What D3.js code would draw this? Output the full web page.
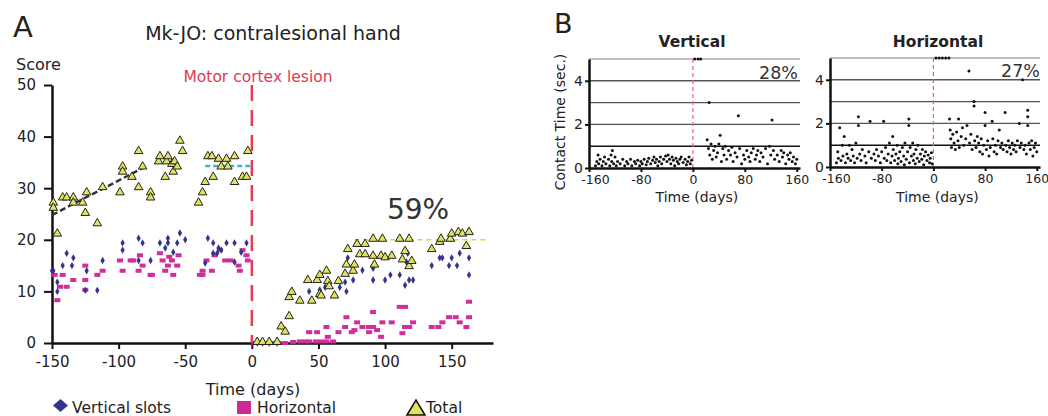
<!DOCTYPE html>
<html>
<head>
<meta charset="utf-8">
<script src="https://cdn.jsdelivr.net/npm/d3@7"></script>
<style>
  body { margin: 0; background: #fff; }
  text { font-family: "DejaVu Sans", sans-serif; fill: #222; }
</style>
</head>
<body>
<script>
// ---------- Panel A data: [day, score] ----------
const totalScores = [
  [-149,27],[-149,26],[-146,21],[-142,28],[-139,28],[-134,28],[-134,27],[-127,27],[-125,25],[-124,29],
  [-116,23],[-112,30],[-99,29],[-97,34],[-97,33],[-90,32],[-85,37],[-85,30],[-82,34],[-76,29],[-76,28],
  [-70,35],[-69,36],[-65,32],[-64,35],[-63,36],[-60,34.5],[-59,33],[-58,35],[-56,34],[-54,39],[-52,37],
  [-40,27],[-37,29],[-35,31],[-33,36],[-30,36],[-29,32],[-25,35.5],[-23,34],[-19,35.5],[-18,34],[-13,36],
  [-13,31],[-7,32],[-4,32],[-3,37],
  [4,0],[8,0],[13,0],[19,0],[22,3],[25,2],[28,5],[28,8.7],[30,9.7],[36,8],[42,12],[45,8],[49,12],[51,13],
  [51,9.3],[52,9],[56,13.8],[57,11.8],[58,10.8],[62,9],[65,11.8],[70,13.2],[71,15],[72,18],[76,13.8],
  [77,15],[79,19],[81,17],[85,19],[85,17],[91,20],[91,16.7],[92,15],[97,16.7],[98,20],[100,16.4],[105,16.7],
  [111,20],[113,16],[115,17.6],[118,20],[118,14.7],[120,15.7],[135,18],[141,19.4],[142,20],[149,20],
  [150,21],[155,21.3],[158,21],[161,18.6],[163,21.3]
];
const verticalScores = [
  [-150,14],[-149,14],[-146,11.8],[-146,10],[-142,15],[-139,17.4],[-135,15],[-134,16.5],[-125,10.2],
  [-124,14],[-116,10.2],[-112,16],[-97,19.4],[-97,18],[-85,20.3],[-85,16],[-82,19.4],[-76,16],[-69,19.4],
  [-65,18.4],[-63,20.3],[-63,19.4],[-59,17.6],[-56,19.4],[-54,21.3],[-50,20],[-35,15.5],[-33,20.3],
  [-29,19.4],[-29,17.4],[-26,17.4],[-25,18.4],[-23,18],[-19,19.4],[-13,19.4],[-13,15.7],[-8,17.6],[-4,19.4],
  [4,0],[8,0],[13,0],[19,0],[43,10],[51,10.3],[55,10.8],[66,10.8],[70,11.8],[71,10],[72,16.5],[76,12.2],
  [83,14.1],[91,14.5],[91,12.2],[100,12.2],[104,13.2],[111,13.2],[115,11.2],[116,15.7],[117,17.4],
  [118,12.2],[121,12.2],[135,15],[141,16.5],[143,16.5],[148,15],[150,16.5],[154,15],[156,17.4],
  [163,16.5],[163,13.2]
];
const horizontalScores = [
  [-148,13.2],[-146,8.3],[-144,10.9],[-142,13.2],[-139,10.9],[-134,12.2],[-125,15],[-125,12.2],[-125,10.3],
  [-116,13.2],[-112,14],[-99,16],[-97,14],[-91,16],[-89,16],[-85,14],[-84,17],[-82,15],[-76,13.2],
  [-75,13.2],[-69,17.4],[-67,16],[-65,14],[-63,15],[-62,16.7],[-60,16],[-59,13.2],[-56,15],[-55,17],
  [-39,13.2],[-37,14],[-37,13.2],[-34,16],[-30,14],[-28,17],[-24,18],[-20,16],[-16,16],[-10,15],[-9,14],
  [-7,18],[-4,17],[-3,16],
  [2,0],[6,0],[10,0],[15,0],[20,0],[25,0],[31,0.2],[36,0.3],[40,0.3],[43,0.3],[48,0.3],[52,0.3],[56,0.3],
  [61,0.3],[43,2.1],[49,2.1],[56,3.1],[57,1.2],[65,2.1],[70,3.1],[71,5],[75,2.1],[77,2.5],[79,4],[83,3.1],
  [88,2.1],[88,3.1],[91,6],[91,3.1],[94,2.5],[97,1.2],[98,4],[105,4],[111,7],[113,1.9],[115,7],[115,3.1],
  [118,3.1],[121,4],[135,3.1],[140,3.1],[143,4],[148,5],[153,5],[156,4],[161,3.1],[163,5],[163,8]
];
// dashed reference lines: [[day0, score0], [day1, score1]]
const preFitLine = [[-150,24.8],[-82,33.9]];
const preMeanLine = [[-35,34.3],[-1,34.3]];
const plateauLine = [[77,20],[178,20]];
const xTicksA = [-150,-100,-50,0,50,100,150];
const yTicksA = [0,10,20,30,40,50];

// ---------- Panel B data: [day, contact time in sec] ----------
const verticalContact = [
  [-150,0.1],[-148,0.3],[-146,0.6],[-145,0.2],[-143,0.4],[-140,0.1],[-138,0.3],[-136,0.5],[-134,0.2],
  [-130,0.4],[-128,0.1],[-126,0.6],[-125,0.3],[-124,0.8],[-122,0.2],[-120,0.5],[-118,0.1],[-116,0.3],
  [-112,0.2],[-108,0.4],[-105,0.1],[-102,0.3],[-100,0.2],[-96,0.4],[-94,0.1],[-90,0.3],[-88,0.2],
  [-85,0.35],[-82,0.1],[-80,0.3],[-78,0.2],[-75,0.4],[-72,0.15],[-70,0.3],[-68,0.45],[-65,0.2],[-62,0.35],
  [-60,0.5],[-58,0.25],[-56,0.4],[-54,0.1],[-52,0.3],[-50,0.5],[-48,0.2],[-45,0.4],[-42,0.55],[-40,0.3],
  [-38,0.6],[-36,0.4],[-34,0.2],[-32,0.5],[-30,0.35],[-28,0.1],[-26,0.45],[-24,0.3],[-22,0.2],[-20,0.4],
  [-18,0.5],[-15,0.25],[-12,0.4],[-10,0.15],[-8,0.3],[-6,0.5],[-4,0.2],[-2,0.35],
  [3,5],[8,5],[12,5],[22,1.3],[24,0.9],[25,3.0],[26,0.6],[28,1.1],[30,0.4],[32,0.8],[34,1.0],[36,0.5],
  [38,0.7],[40,1.1],[42,1.5],[44,0.3],[46,0.9],[48,0.6],[50,1.0],[52,0.4],[55,0.8],[58,0.6],[60,0.95],
  [62,0.3],[65,0.7],[68,0.5],[70,2.4],[72,0.9],[75,0.2],[78,0.6],[80,0.4],[83,0.8],[86,0.5],[88,0.3],
  [90,0.7],[93,0.9],[96,0.4],[98,0.6],[100,0.8],[103,0.3],[105,0.7],[108,0.5],[112,0.9],[115,0.2],
  [118,1.0],[120,0.6],[122,2.2],[124,0.8],[126,0.4],[130,0.6],[133,0.3],[136,0.8],[138,0.5],[140,0.7],
  [143,0.2],[146,0.6],[148,0.4],[150,0.7],[153,0.3],[155,0.5],[158,0.2],[160,0.4]
];
const horizontalContact = [
  [-150,0.2],[-148,0.7],[-147,0.4],[-145,1.8],[-143,0.3],[-141,1.0],[-140,0.5],[-138,1.4],[-136,0.2],
  [-134,0.6],[-132,0.4],[-130,1.0],[-128,0.3],[-126,0.8],[-124,0.5],[-122,0.2],[-120,1.1],[-118,0.4],
  [-116,1.9],[-116,2.3],[-114,0.6],[-112,0.3],[-110,0.8],[-106,0.5],[-104,0.2],[-100,0.7],[-98,2.1],
  [-96,0.4],[-92,0.6],[-90,0.3],[-88,0.8],[-85,0.5],[-82,0.2],[-80,0.7],[-77,2.1],[-76,0.4],[-74,0.9],
  [-72,0.3],[-70,0.6],[-68,1.1],[-66,0.2],[-64,0.5],[-63,1.4],[-62,0.8],[-60,0.3],[-58,0.6],[-56,1.0],
  [-55,0.15],[-54,0.4],[-52,0.7],[-50,0.25],[-48,0.9],[-46,0.5],[-45,0.1],[-44,1.1],[-42,0.35],[-40,0.7],
  [-38,2.2],[-38,1.9],[-37,0.2],[-36,0.9],[-34,0.5],[-32,1.1],[-31,0.3],[-30,0.6],[-28,0.15],[-27,0.8],
  [-25,0.4],[-24,1.0],[-22,0.25],[-20,0.6],[-18,0.35],[-17,0.8],[-15,0.1],[-14,0.5],[-12,0.7],[-10,0.3],
  [-8,0.55],[-6,0.2],[-5,0.4],[-3,0.65],[-2,0.15],
  [4,5],[9,5],[14,5],[19,5],[24,5],[25,2.2],[26,1.7],[27,1.3],[28,0.9],[30,1.5],[32,1.1],[34,0.8],
  [36,1.6],[38,1.2],[39,2.2],[40,0.9],[43,1.4],[45,1.8],[47,1.0],[50,1.3],[52,1.9],[55,4.4],[56,1.1],
  [58,1.5],[60,0.8],[63,3.0],[63,2.8],[64,1.2],[66,0.9],[68,1.4],[70,1.1],[72,0.7],[74,1.3],[76,0.6],
  [78,1.0],[80,2.5],[80,1.9],[82,0.8],[84,1.2],[86,0.5],[88,0.9],[91,2.1],[92,1.3],[94,0.7],[96,1.0],
  [98,0.6],[100,1.2],[102,1.7],[104,0.9],[106,1.1],[108,0.8],[111,2.5],[112,1.0],[114,0.7],[116,1.2],
  [118,0.9],[120,0.6],[122,1.1],[124,0.8],[126,1.0],[128,0.7],[130,1.2],[133,2.0],[134,0.9],[136,1.1],
  [138,4.0],[140,0.8],[142,1.0],[144,0.6],[146,2.6],[146,2.3],[146,1.9],[148,1.1],[150,0.8],[152,1.2],
  [154,0.5],[156,0.9],[158,1.1],[160,0.7]
];
const xTicksB = [-160,-80,0,80,160];
const yTicksB = [0,2,4];
const gridB = [1,2,3,4];

const svg = d3.select("body").append("svg")
    .attr("width", 1048)
    .attr("height", 416);

// plain hyphen for negatives, like the original figure
const fmt = d => String(d);

function styleAxis(g, fontSize, width) {
  g.select(".domain").attr("stroke", "#111").attr("stroke-width", width);
  g.selectAll(".tick line").attr("stroke", "#111").attr("stroke-width", width * 0.8);
  g.selectAll(".tick text").attr("font-size", fontSize).attr("fill", "#222")
    .attr("font-family", "DejaVu Sans, sans-serif");
}

// ================= Panel A =================
const xA = d3.scaleLinear().domain([-150, 181]).range([52, 493]);
const yA = d3.scaleLinear().domain([0, 50]).range([343, 85]);

svg.append("g").attr("transform", "translate(0,343)")
  .call(d3.axisBottom(xA).tickValues(xTicksA).tickFormat(fmt).tickSize(6).tickSizeOuter(0).tickPadding(7))
  .call(g => styleAxis(g, 15, 2.5));
svg.append("g").attr("transform", "translate(52,0)")
  .call(d3.axisLeft(yA).tickValues(yTicksA).tickFormat(fmt).tickSize(8).tickSizeOuter(0).tickPadding(8))
  .call(g => styleAxis(g, 15, 2.5));

// lesion line
svg.append("line")
  .attr("x1", xA(0)).attr("x2", xA(0))
  .attr("y1", yA(50)).attr("y2", yA(0))
  .attr("stroke", "#e63a52").attr("stroke-width", 2.5)
  .attr("stroke-dasharray", "16,9");

const lineA = d3.line().x(d => xA(d[0])).y(d => yA(d[1]));
svg.append("path").attr("d", lineA(preFitLine)).attr("fill", "none")
  .attr("stroke", "#333").attr("stroke-width", 2.5).attr("stroke-dasharray", "6,3");
svg.append("path").attr("d", lineA(preMeanLine)).attr("fill", "none")
  .attr("stroke", "#3ab4d6").attr("stroke-width", 2.5).attr("stroke-dasharray", "5,3");

// horizontal (magenta squares)
svg.append("g").selectAll("rect").data(horizontalScores).enter().append("rect")
  .attr("x", d => xA(d[0]) - 3).attr("y", d => yA(d[1]) - 2)
  .attr("width", 6).attr("height", 4)
  .attr("fill", "#d02e9a");

// vertical slots (blue diamonds)
svg.append("g").selectAll("path").data(verticalScores).enter().append("path")
  .attr("d", d3.symbol(d3.symbolDiamond, 16))
  .attr("transform", d => `translate(${xA(d[0])},${yA(d[1])})`)
  .attr("fill", "#34348e");

svg.append("path").attr("d", lineA(plateauLine)).attr("fill", "none")
  .attr("stroke", "#c9da4c").attr("stroke-width", 1.5).attr("stroke-dasharray", "5,4");

// total (yellow triangles)
svg.append("g").selectAll("path").data(totalScores).enter().append("path")
  .attr("d", d3.symbol(d3.symbolTriangle, 32))
  .attr("transform", d => `translate(${xA(d[0])},${yA(d[1]) - 1})`)
  .attr("fill", "#e2e35c").attr("stroke", "#222").attr("stroke-width", 1);

// texts panel A
svg.append("text").attr("x", 13).attr("y", 37).attr("font-size", 29).text("A");
svg.append("text").attr("x", 273).attr("y", 40).attr("font-size", 19)
  .attr("text-anchor", "middle").text("Mk-JO: contralesional hand");
svg.append("text").attr("x", 16).attr("y", 70).attr("font-size", 16).text("Score");
svg.append("text").attr("x", 258).attr("y", 82).attr("font-size", 15.5)
  .attr("text-anchor", "middle").style("fill", "#e03a55").text("Motor cortex lesion");
svg.append("text").attr("x", 418).attr("y", 219).attr("font-size", 28)
  .attr("text-anchor", "middle").style("fill", "#333").text("59%");
svg.append("text").attr("x", 253).attr("y", 395).attr("font-size", 16)
  .attr("text-anchor", "middle").text("Time (days)");

// legend
const legend = svg.append("g");
legend.append("path").attr("d", "M53,405.5L60.5,399L68,405.5L60.5,412Z").attr("fill", "#34348e");
legend.append("text").attr("x", 72).attr("y", 413).attr("font-size", 15.5).text("Vertical slots");
legend.append("rect").attr("x", 237).attr("y", 401).attr("width", 14).attr("height", 13).attr("fill", "#cc2a95");
legend.append("text").attr("x", 257).attr("y", 413).attr("font-size", 15.5).text("Horizontal");
legend.append("path").attr("d", "M407,415L416,400L425,415Z")
  .attr("fill", "#e2e35c").attr("stroke", "#111").attr("stroke-width", 1.5);
legend.append("text").attr("x", 426).attr("y", 413).attr("font-size", 15.5).text("Total");

// ================= Panel B =================
function drawB(data, xRange, yRange, title, titleX, pct, pctX, pctY) {
  const x = d3.scaleLinear().domain([-160, 165]).range(xRange);
  const y = d3.scaleLinear().domain([0, 5]).range(yRange);
  const g = svg.append("g");

  g.selectAll("line.grid").data(gridB).enter().append("line")
    .attr("x1", x(-160)).attr("x2", xRange[1])
    .attr("y1", d => y(d)).attr("y2", d => y(d))
    .attr("stroke", d => d === 1 ? "#111" : "#555").attr("stroke-width", 1.4);
  g.append("line")
    .attr("x1", x(-160)).attr("x2", xRange[1])
    .attr("y1", y(5)).attr("y2", y(5))
    .attr("stroke", "#aaa").attr("stroke-width", 1.4);

  g.append("line")
    .attr("x1", x(0)).attr("x2", x(0)).attr("y1", y(5)).attr("y2", y(0))
    .attr("stroke", "#e8607a").attr("stroke-width", 1.2).attr("stroke-dasharray", "4,3");

  g.append("g").attr("transform", `translate(0,${yRange[0]})`)
    .call(d3.axisBottom(x).tickValues(xTicksB).tickFormat(fmt).tickSize(4).tickSizeOuter(0).tickPadding(3))
    .call(a => styleAxis(a, 12.5, 2.5))
    .call(a => a.selectAll(".tick text").filter(d => d === -160).attr("dx", 6));
  g.append("g").attr("transform", `translate(${xRange[0]},0)`)
    .call(d3.axisLeft(y).tickValues(yTicksB).tickFormat(fmt).tickSize(4).tickSizeOuter(0).tickPadding(2))
    .call(a => styleAxis(a, 14, 2.5));

  g.append("g").selectAll("circle").data(data).enter().append("circle")
    .attr("cx", d => x(d[0])).attr("cy", d => y(d[1]))
    .attr("r", 1.5).attr("fill", "#111");

  g.append("text").attr("x", titleX).attr("y", 47).attr("font-size", 15.5)
    .attr("font-weight", "bold").attr("text-anchor", "middle").text(title);
  g.append("text").attr("x", pctX).attr("y", pctY).attr("font-size", 17.5)
    .attr("text-anchor", "end").style("fill", "#333").text(pct);
  g.append("text").attr("x", x(0) + 4).attr("y", 202).attr("font-size", 14)
    .attr("text-anchor", "middle").text("Time (days)");
}

drawB(verticalContact, [589, 800], [168, 59], "Vertical", 692, "28%", 798, 79);
drawB(horizontalContact, [830, 1040], [167, 58], "Horizontal", 938, "27%", 1040, 77);

svg.append("text").attr("x", 554).attr("y", 33).attr("font-size", 27).text("B");
svg.append("text").attr("transform", "translate(565,122) rotate(-90)")
  .attr("font-size", 14).attr("text-anchor", "middle").text("Contact Time (sec.)");
</script>
</body>
</html>
